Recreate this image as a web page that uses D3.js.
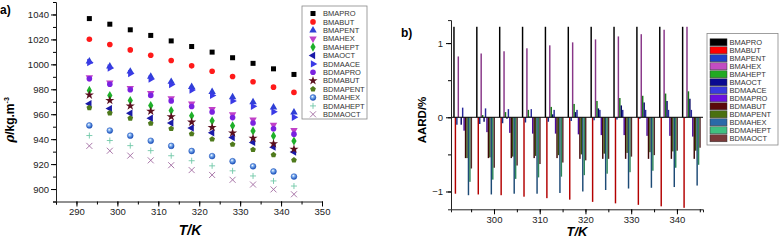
<!DOCTYPE html>
<html><head><meta charset="utf-8">
<script src="https://cdn.jsdelivr.net/npm/d3@7"></script>
<style>body{margin:0;background:#fff}svg{display:block;font-family:"Liberation Sans",Arial,sans-serif}</style>
</head><body>
<svg id="c" width="780" height="242"></svg>
<script>
// ---------- data ----------
const temps = [293.15, 298.15, 303.15, 308.15, 313.15, 318.15, 323.15, 328.15, 333.15, 338.15, 343.15];
const seriesNames = ["BMAPRO","BMABUT","BMAPENT","BMAHEX","BMAHEPT","BMAOCT","BDMAACE","BDMAPRO","BDMABUT","BDMAPENT","BDMAHEX","BDMAHEPT","BDMAOCT"];
// densities, kg/m3 (panel a)
const rhoBMAPRO   = [1036.7,1032.2,1027.7,1023.2,1018.8,1014.3,1009.8,1005.3,1000.8,996.4,991.9];
const rhoBMABUT   = [1020.1,1015.9,1011.6,1007.3,1003.1,998.8,994.5,990.3,986.0,981.7,977.5];
const rhoBMAPENT  = [1002.5,998.4,994.3,990.2,986.1,982.0,977.9,973.8,969.7,965.6,961.5];
const rhoBMAHEX   = [989.5,985.3,981.0,976.8,972.6,968.4,964.1,959.9,955.7,951.4,947.2];
const rhoBMAHEPT  = [979.1,975.0,971.0,966.9,962.9,958.8,954.7,950.7,946.6,942.6,938.5];
const rhoBMAOCT   = [968.4,964.5,960.7,956.8,952.9,949.0,945.2,941.3,937.4,933.6,929.7];
const rhoBDMAACE  = [1001.5,997.1,992.7,988.3,983.9,979.5,975.1,970.7,966.3,961.9,957.5];
const rhoBDMAPRO  = [988.5,984.0,979.6,975.1,970.7,966.2,961.8,957.3,952.9,948.4,944.0];
const rhoBDMABUT  = [975.4,971.1,966.7,962.4,958.0,953.7,949.4,945.0,940.7,936.3,932.0];
const rhoBDMAPENT = [965.2,961.0,956.8,952.6,948.4,944.2,940.0,935.8,931.6,927.4,923.2];
const rhoBDMAHEX  = [951.0,946.9,942.8,938.7,934.6,930.5,926.4,922.3,918.2,914.1,910.0];
const rhoBDMAHEPT = [942.9,938.9,934.8,930.8,926.7,922.7,918.6,914.6,910.5,906.5,902.4];
const rhoBDMAOCT  = [934.6,930.7,926.8,923.0,919.1,915.2,911.3,907.4,903.6,899.7,895.8];
// AARD/% (panel b)
const dBMAPRO   = [1.22,1.22,1.22,1.22,1.22,1.22,1.22,1.22,1.22,1.22,1.22];
const dBMABUT   = [-1.03,-1.04,-1.05,-1.07,-1.09,-1.11,-1.14,-1.16,-1.18,-1.20,-1.22];
const dBMAPENT  = [-0.10,-0.09,-0.08,-0.07,-0.06,-0.05,-0.04,-0.03,-0.02,-0.01,-0.01];
const dBMAHEX   = [0.82,0.86,0.89,0.93,0.97,1.01,1.05,1.09,1.12,1.18,1.22];
const dBMAHEPT  = [0.00,0.03,0.07,0.10,0.14,0.18,0.22,0.26,0.29,0.32,0.35];
const dBMAOCT   = [-0.10,-0.06,-0.02,0.01,0.04,0.07,0.12,0.16,0.20,0.22,0.25];
const dBDMAACE  = [0.13,0.12,0.11,0.11,0.10,0.10,0.10,0.10,0.10,0.10,0.10];
const dBDMAPRO  = [-0.18,-0.20,-0.21,-0.22,-0.22,-0.23,-0.24,-0.24,-0.25,-0.25,-0.26];
const dBDMABUT  = [-0.55,-0.55,-0.55,-0.55,-0.55,-0.56,-0.56,-0.56,-0.56,-0.56,-0.56];
const dBDMAPENT = [-0.55,-0.54,-0.53,-0.52,-0.51,-0.50,-0.49,-0.48,-0.47,-0.46,-0.45];
const dBDMAHEX  = [-1.05,-1.04,-1.03,-1.03,-1.02,-1.00,-0.98,-0.96,-0.95,-0.94,-0.92];
const dBDMAHEPT = [-0.87,-0.84,-0.83,-0.81,-0.80,-0.78,-0.76,-0.74,-0.72,-0.68,-0.64];
const dBDMAOCT  = [-0.69,-0.68,-0.65,-0.63,-0.61,-0.58,-0.56,-0.53,-0.51,-0.45,-0.41];
const xTicksA = [290,300,310,320,330,340,350];
const yTicksA = [900,920,940,960,980,1000,1020,1040];
const xTicksB = [300,310,320,330,340];
const yTicksB = [-1,0,1];

const rhoData = [rhoBMAPRO,rhoBMABUT,rhoBMAPENT,rhoBMAHEX,rhoBMAHEPT,rhoBMAOCT,rhoBDMAACE,rhoBDMAPRO,rhoBDMABUT,rhoBDMAPENT,rhoBDMAHEX,rhoBDMAHEPT,rhoBDMAOCT];
const aardData = [dBMAPRO,dBMABUT,dBMAPENT,dBMAHEX,dBMAHEPT,dBMAOCT,dBDMAACE,dBDMAPRO,dBDMABUT,dBDMAPENT,dBDMAHEX,dBDMAHEPT,dBDMAOCT];

// ---------- styles ----------
const markColors = ["#000000","#ff1a1a","#2f3fd6","#c040c8","#1fb02a","#1a1aa8","#3a3ae6","#7a22e0","#5a0f1e","#4f7a1c","#2a66cc","#70c8a8","#a06aa0"];
const markShapes = ["square","circle","up","down","diamond","left","right","circle","star","pentagon","sphere","plus","cross"];
const barColors = ["#000000","#ff0000","#2040c8","#c24dc2","#22aa22","#0a0a90","#3a3adf","#6a10e0","#5a0a0a","#4a7010","#2a6aa8","#40c080","#7a3a3a"];

const svg = d3.select("#c");
const defs = svg.append("defs");
const g = defs.append("radialGradient").attr("id","sph").attr("cx","0.4").attr("cy","0.35").attr("r","0.65");
g.append("stop").attr("offset","0").attr("stop-color","#ffffff");
g.append("stop").attr("offset","0.35").attr("stop-color","#7fb0f0");
g.append("stop").attr("offset","1").attr("stop-color","#1a4fb8");

function pentagonPath(r){
  const p=[];for(let i=0;i<5;i++){const a=-Math.PI/2+i*2*Math.PI/5;p.push([r*Math.cos(a),r*Math.sin(a)]);}
  return "M"+p.map(d=>d.join(",")).join("L")+"Z";
}
function drawMarker(sel, shape, color){
  let el;
  switch(shape){
    case "square": el=sel.append("rect").attr("x",-2.5).attr("y",-2.5).attr("width",5).attr("height",5).attr("fill",color); break;
    case "circle": el=sel.append("circle").attr("r",2.8).attr("fill",color); break;
    case "up": el=sel.append("path").attr("d",d3.symbol(d3.symbolTriangle,24)()).attr("fill",color); break;
    case "down": el=sel.append("path").attr("d",d3.symbol(d3.symbolTriangle,24)()).attr("transform","rotate(180)").attr("fill",color); break;
    case "left": el=sel.append("path").attr("d",d3.symbol(d3.symbolTriangle,24)()).attr("transform","rotate(-90)").attr("fill",color); break;
    case "right": el=sel.append("path").attr("d",d3.symbol(d3.symbolTriangle,24)()).attr("transform","rotate(90)").attr("fill",color); break;
    case "diamond": el=sel.append("path").attr("d",d3.symbol(d3.symbolDiamond,24)()).attr("fill",color); break;
    case "star": el=sel.append("path").attr("d",d3.symbol(d3.symbolStar,26)()).attr("fill",color); break;
    case "pentagon": el=sel.append("path").attr("d",pentagonPath(3)).attr("fill",color); break;
    case "sphere": el=sel.append("circle").attr("r",2.9).attr("fill","url(#sph)").attr("stroke","#1a4fb8").attr("stroke-width",0.5); break;
    case "plus": el=sel.append("path").attr("d","M-3,0H3M0,-3V3").attr("stroke",color).attr("stroke-width",0.9).attr("fill","none"); break;
    case "cross": el=sel.append("path").attr("d","M-3,-3L3,3M-3,3L3,-3").attr("stroke",color).attr("stroke-width",0.9).attr("fill","none"); break;
  }
  return el;
}
const labelStyle = s=>{s.select(".domain").remove();s.selectAll("text").attr("font-size","9.5px").attr("fill","#222").attr("font-family","Liberation Sans, Arial");};

// ---------- panel a ----------
const xa = d3.scaleLinear().domain([285,350]).range([56,322]);
const ya = d3.scaleLinear().domain([890,1050]).range([201.5,2]);
const ga = svg.append("g");
ga.append("g").attr("transform","translate(0,201.5)")
  .call(d3.axisBottom(xa).tickValues(d3.range(285,351,5)).tickSize(3).tickFormat(""))
  .call(s=>s.selectAll(".domain").attr("stroke","#222"));
ga.append("g").attr("transform","translate(0,201.5)")
  .call(d3.axisBottom(xa).tickValues(xTicksA).tickSize(5).tickPadding(2).tickFormat(d3.format("d")))
  .call(labelStyle);
ga.append("g").attr("transform","translate(56,0)")
  .call(d3.axisLeft(ya).tickValues(d3.range(890,1051,10)).tickSize(3).tickFormat(""))
  .call(s=>s.selectAll(".domain").attr("stroke","#222"));
ga.append("g").attr("transform","translate(56,0)")
  .call(d3.axisLeft(ya).tickValues(yTicksA).tickSize(5).tickPadding(2).tickFormat(d3.format("d")))
  .call(labelStyle);

rhoData.forEach((arr,si)=>{
  const gs = ga.append("g");
  arr.forEach((v,i)=>{
    const m = gs.append("g").attr("transform",`translate(${xa(temps[i])},${ya(v)})`);
    drawMarker(m, markShapes[si], markColors[si]);
  });
});
// legend a
const la = ga.append("g");
la.append("rect").attr("x",302).attr("y",6).attr("width",65).attr("height",113).attr("fill","#fff").attr("stroke","#888").attr("stroke-width",0.8);
seriesNames.forEach((n,i)=>{
  const yy = 13.5 + i*8.4;
  drawMarker(la.append("g").attr("transform",`translate(313,${yy})`), markShapes[i], markColors[i]);
  la.append("text").attr("x",323).attr("y",yy+2.7).attr("font-size","7.5px").attr("fill","#333").text(n);
});
svg.append("text").attr("x",0).attr("y",14).attr("font-size","12px").attr("font-weight","bold").text("a)");
svg.append("text").attr("transform","translate(14,120) rotate(-90)").attr("text-anchor","middle").attr("font-size","12px").attr("font-weight","bold")
  .call(t=>{t.append("tspan").attr("font-style","italic").attr("font-family","DejaVu Serif").text("ρ");
           t.append("tspan").text("/kg.m");
           t.append("tspan").attr("font-size","7px").attr("dy","-5").text("-3");});
svg.append("text").attr("x",190).attr("y",235).attr("text-anchor","middle").attr("font-size","14px").attr("font-weight","bold").attr("font-style","italic").text("T/K");

// ---------- panel b ----------
const xb = d3.scaleLinear().domain([290.6,345.7]).range([451,703]);
const yb = d3.scaleLinear().domain([-1.24,1.31]).range([209.3,20.1]);
const gb = svg.append("g");
const barW = 1.45;
aardData.forEach((arr,si)=>{
  const col = d3.interpolateRgb(barColors[si],"#000")(si===0?0:0.3);
  gb.append("g").selectAll("rect").data(arr).join("rect")
    .attr("x",(d,i)=>xb(temps[i]) + (si-6)*barW - barW/2)
    .attr("width",barW)
    .attr("y",d=>yb(Math.max(0,d)))
    .attr("height",d=>Math.abs(yb(d)-yb(0)))
    .attr("fill",col);
});
gb.append("line").attr("x1",451).attr("x2",703).attr("y1",yb(0)).attr("y2",yb(0)).attr("stroke","#000").attr("stroke-width",1);
gb.append("g").attr("transform","translate(0,209.3)")
  .call(d3.axisBottom(xb).tickValues(d3.range(295,346,5)).tickSize(3).tickFormat(""))
  .call(s=>s.selectAll(".domain").attr("stroke","#222"));
gb.append("g").attr("transform","translate(0,209.3)")
  .call(d3.axisBottom(xb).tickValues(xTicksB).tickSize(5).tickPadding(2).tickFormat(d3.format("d")))
  .call(labelStyle);
gb.append("g").attr("transform","translate(451,0)")
  .call(d3.axisLeft(yb).tickValues([-1,-0.5,0,0.5,1]).tickSize(3).tickFormat(""))
  .call(s=>s.selectAll(".domain").attr("stroke","#222"));
gb.append("g").attr("transform","translate(451,0)")
  .call(d3.axisLeft(yb).tickValues(yTicksB).tickSize(5).tickPadding(3).tickFormat(d3.format("d")))
  .call(labelStyle);
// legend b
const lb = gb.append("g");
lb.append("rect").attr("x",707).attr("y",33.5).attr("width",71).attr("height",111.5).attr("fill","#fff").attr("stroke","#888").attr("stroke-width",0.8);
seriesNames.forEach((n,i)=>{
  const yy = 42.3 + i*8;
  lb.append("rect").attr("x",710).attr("y",yy-3.5).attr("width",17).attr("height",7).attr("fill",barColors[i]).attr("stroke","#333").attr("stroke-width",0.5);
  lb.append("text").attr("x",729.5).attr("y",yy+2.7).attr("font-size","7.5px").attr("fill","#333").text(n);
});
svg.append("text").attr("x",401).attr("y",37).attr("font-size","12px").attr("font-weight","bold").text("b)");
svg.append("text").attr("transform","translate(426,120) rotate(-90)").attr("text-anchor","middle").attr("font-size","11.5px").attr("font-weight","bold").text("AARD/%");
svg.append("text").attr("x",577).attr("y",236).attr("text-anchor","middle").attr("font-size","13px").attr("font-weight","bold").attr("font-style","italic").text("T/K");
</script>
</body></html>
